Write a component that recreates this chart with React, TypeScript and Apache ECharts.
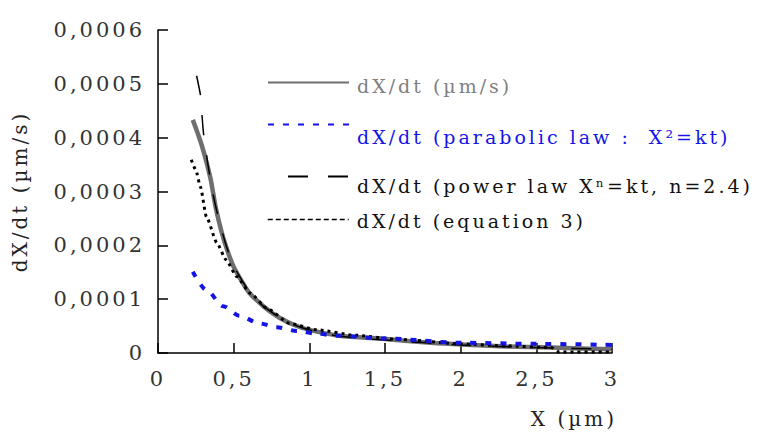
import React, { useEffect, useRef } from 'react';
import * as echarts from 'echarts';

const FONT = '"DejaVu Serif", "Liberation Serif", serif';

// tick labels
const xTickLabels = ['0', '0,5', '1', '1,5', '2', '2,5', '3'];
const yTickLabels = ['0', '0,0001', '0,0002', '0,0003', '0,0004', '0,0005', '0,0006'];

// series names
const seriesNames = [
  'dX/dt (µm/s)',
  'dX/dt (parabolic law :  X²=kt)',
  'dX/dt (power law Xⁿ=kt, n=2.4)',
  'dX/dt (equation 3)',
];

// measured dX/dt (grey solid)
const measuredX = [0.23, 0.26, 0.29, 0.32, 0.35, 0.38, 0.42, 0.46, 0.5, 0.55, 0.6, 0.7, 0.8, 0.9, 1.0, 1.2, 1.5, 1.8, 2.0, 2.3, 2.6, 3.0];
const measuredY = [0.000433, 0.00041, 0.000385, 0.000355, 0.00032, 0.000272, 0.000225, 0.000189, 0.00016, 0.000135, 0.000113, 0.000086, 0.000066, 0.000052, 0.000043, 0.000032, 0.000026, 0.000019, 0.000016, 0.000012, 0.00001, 0.000007];

// parabolic law (blue dashed)
const parabolicX = [0.23, 0.32, 0.43, 0.54, 0.67, 0.78, 0.92, 1.05, 1.18, 1.5, 2.0, 2.5, 3.0];
const parabolicY = [0.000151, 0.000117, 0.000087, 0.000069, 0.000055, 0.000048, 0.000041, 0.000036, 0.000032, 0.000027, 0.000019, 0.000017, 0.000015];

// power law n = 2.4 (black long dash)
const powerX = [0.255, 0.28, 0.29, 0.3, 0.33, 0.36, 0.4, 0.45, 0.5, 0.6, 0.7, 0.85, 1.0, 1.2, 1.5, 2.0, 2.5, 3.0];
const powerY = [0.000515, 0.00048, 0.000445, 0.00041, 0.00035, 0.0003, 0.00025, 0.0002, 0.000162, 0.000115, 0.000086, 0.000058, 0.000043, 0.000031, 0.000024, 0.000015, 0.00001, 0.000007];

// equation 3 (black dotted)
const eq3X = [0.22, 0.25, 0.28, 0.32, 0.39, 0.45, 0.52, 0.61, 0.72, 0.87, 1.05, 1.3, 1.6, 2.0, 2.3, 2.6, 2.65, 3.0];
const eq3Y = [0.000359, 0.00034, 0.000309, 0.000253, 0.000204, 0.000173, 0.000142, 0.000111, 0.000083, 0.000055, 0.000043, 0.000033, 0.000025, 0.000017, 0.000013, 0.00001, 0.000002, 0.000002];

const zip = (xs: number[], ys: number[]) => xs.map((x, i) => [x, ys[i]]);

const GREY = '#6e6e6e';
const BLUE = '#1414e6';

export default function App() {
  const ref = useRef<HTMLDivElement>(null);

  useEffect(() => {
    if (!ref.current) return;
    const chart = echarts.init(ref.current, undefined, { renderer: 'svg' });
    const legendItem = (idx: number, top: number, color: string, padTop: number, extra: any = {}) => ({
      left: 267,
      top,
      itemWidth: 81,
      itemHeight: 14,
      padding: 0,
      selectedMode: false,
      itemStyle: { opacity: 0 },
      data: [seriesNames[idx]],
      formatter: (name: string) => `{t|${name}}`,
      textStyle: {
        fontFamily: FONT,
        fontSize: 19,
        color,
        rich: {
          t: { fontFamily: FONT, fontSize: 19, lineHeight: 20, color, padding: [padTop, 0, 0, 3] },
        },
      },
      ...extra,
    });
    chart.setOption({
      animation: false,
      backgroundColor: '#ffffff',
      grid: { left: 158, right: 149, top: 30, bottom: 79 },
      xAxis: {
        type: 'value',
        min: 0,
        max: 3,
        interval: 0.5,
        name: 'X (µm)',
        nameLocation: 'end',
        nameGap: 5,
        nameTextStyle: {
          fontFamily: FONT,
          fontSize: 20,
          color: '#222',
          align: 'right',
          verticalAlign: 'top',
          padding: [56, 0, 0, 0],
        },
        axisLine: { lineStyle: { color: '#000', width: 1.5 } },
        axisTick: { inside: true, length: 10, lineStyle: { color: '#000', width: 1.5 } },
        splitLine: { show: false },
        axisLabel: {
          fontFamily: FONT,
          fontSize: 21,
          color: '#333',
          margin: 15,
          formatter: (_v: number, i: number) => xTickLabels[i],
        },
      },
      yAxis: {
        type: 'value',
        min: 0,
        max: 0.0006,
        interval: 0.0001,
        name: 'dX/dt (µm/s)',
        nameLocation: 'middle',
        nameGap: 128,
        nameRotate: 90,
        nameTextStyle: { fontFamily: FONT, fontSize: 20, color: '#222' },
        axisLine: { show: true, lineStyle: { color: '#000', width: 1.5 } },
        axisTick: { show: true, inside: true, length: 10, lineStyle: { color: '#000', width: 1.5 } },
        splitLine: { show: false },
        axisLabel: {
          fontFamily: FONT,
          fontSize: 21,
          color: '#333',
          margin: 13,
          formatter: (_v: number, i: number) => yTickLabels[i],
        },
      },
      legend: [
        legendItem(0, 70, '#808080', 6),
        legendItem(1, 103, BLUE, 24),
        legendItem(2, 158, '#111', 18, { lineStyle: { dashOffset: 20, width: 2 } }),
        legendItem(3, 209, '#111', 2, { lineStyle: { width: 1.5, type: [5, 3] } }),
      ],
      series: [
        {
          name: seriesNames[0],
          type: 'line',
          data: zip(measuredX, measuredY),
          symbol: 'none',
          showSymbol: false,
          smooth: 0.2,
          lineStyle: { color: GREY, width: 4.5 },
          itemStyle: { color: GREY },
          z: 1,
        },
        {
          name: seriesNames[2],
          type: 'line',
          data: zip(powerX, powerY),
          symbol: 'none',
          showSymbol: false,
          smooth: 0.2,
          lineStyle: { color: '#000', width: 1.5, type: [20, 20] },
          itemStyle: { color: '#000' },
          z: 2,
        },
        {
          name: seriesNames[3],
          type: 'line',
          data: zip(eq3X, eq3Y),
          symbol: 'none',
          showSymbol: false,
          smooth: 0.2,
          smoothMonotone: 'x',
          lineStyle: { color: '#000', width: 3, type: [3, 4] },
          itemStyle: { color: '#000' },
          z: 3,
        },
        {
          name: seriesNames[1],
          type: 'line',
          data: zip(parabolicX, parabolicY),
          symbol: 'none',
          showSymbol: false,
          smooth: 0.3,
          smoothMonotone: 'x',
          lineStyle: { color: BLUE, width: 4, type: [6, 9] },
          itemStyle: { color: BLUE },
          z: 4,
        },
      ],
    });
    return () => chart.dispose();
  }, []);

  return (
    <div
      ref={ref}
      style={{ position: 'fixed', left: 0, top: 0, width: 761, height: 432, letterSpacing: '3px' }}
    />
  );
}
